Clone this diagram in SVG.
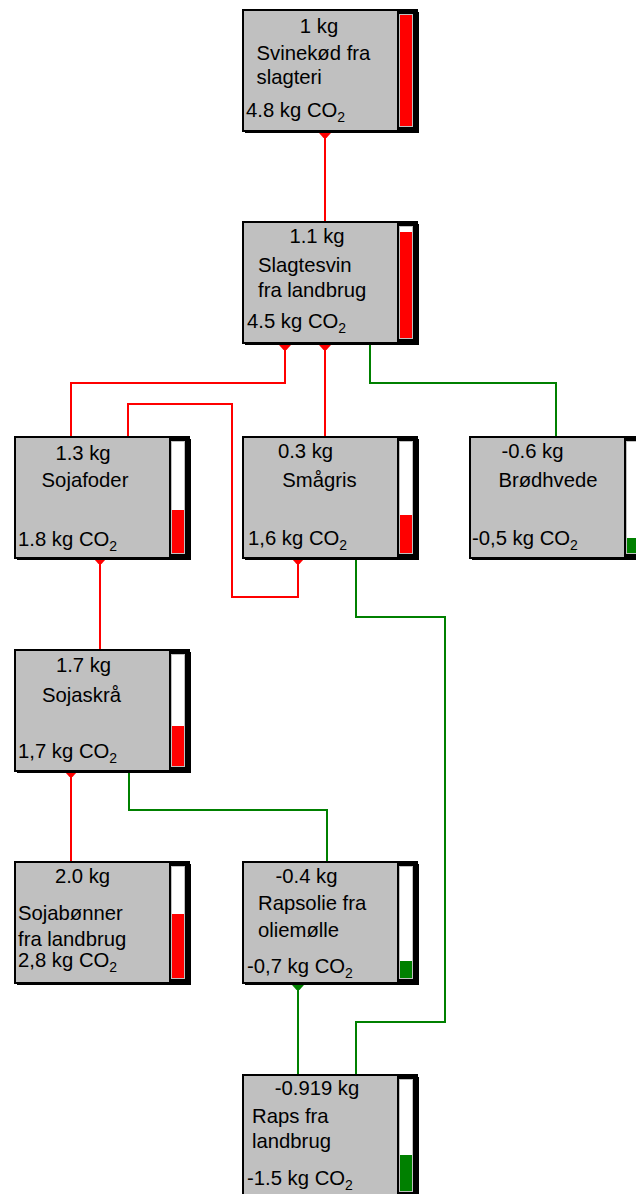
<svg xmlns="http://www.w3.org/2000/svg" xmlns:xlink="http://www.w3.org/1999/xlink" width="636" height="1194" viewBox="0 0 636 1194">
  <style>
    text { font-family: "Liberation Sans", Arial, sans-serif; font-size: 20.3px; fill: #000; }
    .c { text-anchor: middle; }
    .sub { font-size: 14px; }
    .shadow { fill: #000; }
    .box { fill: #c0c0c0; stroke: #000; stroke-width: 2; }
    .gauge { fill: #000; }
    .well { fill: #fff; stroke: #c0c0c0; stroke-width: 1; }
    .hi { fill: #ff0000; }
    .lo { fill: #008000; }
    .link { fill: none; stroke-width: 2; stroke-linejoin: miter; }
    .red { stroke: #ff0000; }
    .green { stroke: #008000; }
    .ahr { fill: #ff0000; }
    .ahg { fill: #008000; }
  </style>
  <defs>
    <!-- node frame: shadow, grey body, gauge column -->
    <g id="frame">
      <rect class="shadow" x="2" y="2" width="174" height="121"/>
      <rect class="box" x="0" y="0" width="174" height="121"/>
      <rect class="gauge" x="154" y="0" width="21" height="121"/>
      <rect class="well" x="156.5" y="4.5" width="13" height="112"/>
    </g>
    <polygon id="ah" points="-5.5,0 5.5,0 5.5,1.5 1.5,6 -1.5,6 -5.5,1.5"/>
  </defs>

  <!-- connectors -->
  <g id="connectors">
    <path class="link red" d="M325,222 V132"/>
    <path class="link red" d="M71,437 V383 H285 V344"/>
    <path class="link red" d="M128,437 V404 H232 V597 H298 V558"/>
    <path class="link red" d="M325,437 V344"/>
    <path class="link red" d="M100,650 V558"/>
    <path class="link red" d="M71,862 V771"/>
    <path class="link green" d="M370,343 V383 H556 V437"/>
    <path class="link green" d="M356,557 V617 H445 V1022 H356 V1075"/>
    <path class="link green" d="M129,770 V810 H327 V862"/>
    <path class="link green" d="M298,1075 V984"/>
    <use xlink:href="#ah" class="ahr" x="325" y="132"/>
    <use xlink:href="#ah" class="ahr" x="285" y="344"/>
    <use xlink:href="#ah" class="ahr" x="325" y="344"/>
    <use xlink:href="#ah" class="ahr" x="298" y="558"/>
    <use xlink:href="#ah" class="ahr" x="100" y="558"/>
    <use xlink:href="#ah" class="ahr" x="71" y="771"/>
    <use xlink:href="#ah" class="ahg" x="298" y="984"/>
  </g>

  <g id="svinekod" transform="translate(243,10)">
    <use xlink:href="#frame"/>
    <rect class="hi" x="157" y="5" width="12" height="111"/>
    <text class="c" x="76" y="23">1 kg</text>
    <text x="13.5" y="50">Svinekød fra</text>
    <text x="13.5" y="74">slagteri</text>
    <text x="3" y="107">4.8 kg CO<tspan class="sub" dy="5">2</tspan></text>
  </g>

  <g id="slagtesvin" transform="translate(243,222)">
    <use xlink:href="#frame"/>
    <rect class="hi" x="157" y="10" width="12" height="106"/>
    <text class="c" x="74" y="21">1.1 kg</text>
    <text x="15" y="50">Slagtesvin</text>
    <text x="15" y="75">fra landbrug</text>
    <text x="4" y="106">4.5 kg CO<tspan class="sub" dy="5">2</tspan></text>
  </g>

  <g id="sojafoder" transform="translate(15,437)">
    <use xlink:href="#frame"/>
    <rect class="hi" x="157" y="73" width="12" height="43"/>
    <text class="c" x="68" y="23">1.3 kg</text>
    <text class="c" x="70" y="50">Sojafoder</text>
    <text x="3" y="109">1.8 kg CO<tspan class="sub" dy="5">2</tspan></text>
  </g>

  <g id="smagris" transform="translate(243,437)">
    <use xlink:href="#frame"/>
    <rect class="hi" x="157" y="78" width="12" height="38"/>
    <text class="c" x="62.5" y="21">0.3 kg</text>
    <text class="c" x="76.5" y="50">Smågris</text>
    <text x="5" y="108">1,6 kg CO<tspan class="sub" dy="5">2</tspan></text>
  </g>

  <g id="brodhvede" transform="translate(470,437)">
    <use xlink:href="#frame"/>
    <rect class="lo" x="157" y="101" width="12" height="15"/>
    <text class="c" x="62.5" y="21">-0.6 kg</text>
    <text class="c" x="78" y="50">Brødhvede</text>
    <text x="2" y="108">-0,5 kg CO<tspan class="sub" dy="5">2</tspan></text>
  </g>

  <g id="sojaskra" transform="translate(15,650)">
    <use xlink:href="#frame"/>
    <rect class="hi" x="157" y="76" width="12" height="40"/>
    <text class="c" x="68.5" y="22">1.7 kg</text>
    <text class="c" x="66.5" y="52">Sojaskrå</text>
    <text x="3" y="108">1,7 kg CO<tspan class="sub" dy="5">2</tspan></text>
  </g>

  <g id="sojabonner" transform="translate(15,862)">
    <use xlink:href="#frame"/>
    <rect class="hi" x="157" y="52" width="12" height="64"/>
    <text class="c" x="67.5" y="21">2.0 kg</text>
    <text x="3" y="58">Sojabønner</text>
    <text x="3" y="84">fra landbrug</text>
    <text x="3" y="105">2,8 kg CO<tspan class="sub" dy="5">2</tspan></text>
  </g>

  <g id="rapsolie" transform="translate(243,862)">
    <use xlink:href="#frame"/>
    <rect class="lo" x="157" y="99" width="12" height="17"/>
    <text class="c" x="63.5" y="21">-0.4 kg</text>
    <text x="15" y="48">Rapsolie fra</text>
    <text x="15" y="75">oliemølle</text>
    <text x="4" y="111">-0,7 kg CO<tspan class="sub" dy="5">2</tspan></text>
  </g>

  <g id="raps" transform="translate(243,1075)">
    <use xlink:href="#frame"/>
    <rect class="lo" x="157" y="80" width="12" height="36"/>
    <text class="c" x="74" y="20">-0.919 kg</text>
    <text x="9" y="48">Raps fra</text>
    <text x="9" y="73">landbrug</text>
    <text x="4" y="110">-1.5 kg CO<tspan class="sub" dy="5">2</tspan></text>
  </g>
</svg>
